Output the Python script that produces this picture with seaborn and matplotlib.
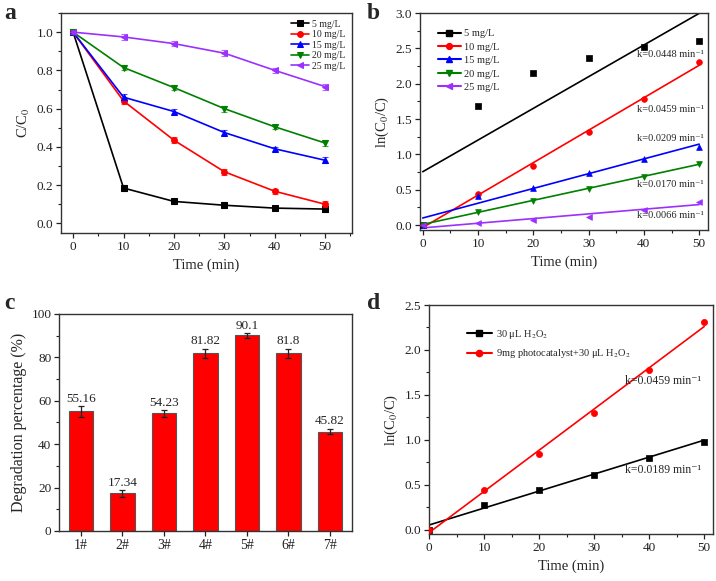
import numpy as np
import pandas as pd
import matplotlib
matplotlib.use("Agg")
import matplotlib.pyplot as plt
from matplotlib.lines import Line2D
from matplotlib.ticker import MultipleLocator, FormatStrFormatter
import seaborn as sns

# ---- data ----
time = [0, 10, 20, 30, 40, 50]
conc_labels = ["5 mg/L", "10 mg/L", "15 mg/L", "20 mg/L", "25 mg/L"]

# panel a: C/C0
c_5 = [1.0, 0.185, 0.115, 0.095, 0.080, 0.075]
c_10 = [1.0, 0.640, 0.435, 0.270, 0.168, 0.100]
c_15 = [1.0, 0.660, 0.585, 0.475, 0.390, 0.330]
c_20 = [1.0, 0.815, 0.710, 0.600, 0.505, 0.420]
c_25 = [1.0, 0.975, 0.940, 0.890, 0.800, 0.715]
c_err = [0.012, 0.015, 0.015, 0.015, 0.012, 0.015]

# panel b: ln(C0/C)
ln_5 = [0.0, 1.69, 2.15, 2.36, 2.52, 2.60]
ln_10 = [0.0, 0.44, 0.84, 1.31, 1.79, 2.31]
ln_15 = [0.0, 0.41, 0.53, 0.74, 0.94, 1.10]
ln_20 = [0.0, 0.19, 0.34, 0.51, 0.68, 0.87]
ln_25 = [0.0, 0.03, 0.07, 0.12, 0.22, 0.33]
k_b = [0.0448, 0.0459, 0.0209, 0.0170, 0.0066]
b0_b = [0.755, -0.035, 0.10, 0.01, -0.04]
k_text_b = ["k=0.0448 min\u207b\u00b9", "k=0.0459 min\u207b\u00b9", "k=0.0209 min\u207b\u00b9",
            "k=0.0170 min\u207b\u00b9", "k=0.0066 min\u207b\u00b9"]
k_text_y_b = [2.41, 1.63, 1.22, 0.57, 0.13]

# panel c: degradation percentage
samples = ["1#", "2#", "3#", "4#", "5#", "6#", "7#"]
degradation = [55.16, 17.34, 54.23, 81.82, 90.1, 81.8, 45.82]
degradation_err = [2.5, 1.5, 1.6, 2.2, 1.0, 2.2, 1.3]
degradation_txt = ["55.16", "17.34", "54.23", "81.82", "90.1", "81.8", "45.82"]

# panel d
d_labels = ["30 \u03bcL H$_2$O$_2$", "9mg photocatalyst+30 \u03bcL H$_2$O$_2$"]
ln_h2o2 = [0.0, 0.27, 0.44, 0.61, 0.80, 0.97]
ln_cat = [0.0, 0.44, 0.84, 1.30, 1.78, 2.31]
k_d = [0.0189, 0.0459]
b0_d = [0.05, -0.035]
k_text_d = ["k=0.0189 min\u207b\u00b9", "k=0.0459 min\u207b\u00b9"]
k_text_y_d = [0.66, 1.65]

colors = ["black", "red", "blue", "#008000", "#9B30FF"]
markers = ["s", "o", "^", "v", "<"]

sns.set_theme(style="white")
plt.rcParams["font.family"] = ["Liberation Serif", "DejaVu Serif"]
plt.rcParams["mathtext.fontset"] = "stix"
plt.rcParams["axes.edgecolor"] = "#333333"
plt.rcParams["axes.linewidth"] = 1.0

fig = plt.figure(figsize=(7.16, 5.81), dpi=100)
ax_a = fig.add_axes([0.0852, 0.599, 0.4064, 0.3786])
ax_b = fig.add_axes([0.5866, 0.6041, 0.4022, 0.3735])
ax_c = fig.add_axes([0.0824, 0.0861, 0.4092, 0.3735])
ax_d = fig.add_axes([0.5992, 0.0809, 0.3966, 0.3941])


def style_axes(ax, xmaj, xmin, ymaj, ymin):
    for s in ax.spines.values():
        s.set_visible(True)
        s.set_color("#333333")
    if xmaj:
        ax.xaxis.set_major_locator(MultipleLocator(xmaj))
    if xmin:
        ax.xaxis.set_minor_locator(MultipleLocator(xmin))
    ax.yaxis.set_major_locator(MultipleLocator(ymaj))
    ax.yaxis.set_minor_locator(MultipleLocator(ymin))
    ax.tick_params(which="major", direction="out", length=3.5, width=0.9,
                   labelsize=9.5, bottom=True, left=True, top=False, right=False,
                   pad=2, colors="#222222")
    ax.tick_params(which="minor", direction="out", length=2, width=0.8,
                   bottom=True, left=True, top=False, right=False, colors="#222222")


# ---- panel a ----
series_a = [c_5, c_10, c_15, c_20, c_25]
for vals, lab, col, mk in zip(series_a, conc_labels, colors, markers):
    sns.lineplot(x=time, y=vals, ax=ax_a, color=col, marker=mk, markersize=4.2,
                 markeredgecolor=col, linewidth=1.2, label=lab)
    ax_a.errorbar(time, vals, yerr=c_err, fmt="none", ecolor=col, elinewidth=0.8,
                  capsize=2, capthick=0.8, alpha=0.7)
ax_a.set_xlim(-2.4, 55.3)
ax_a.set_ylim(-0.05, 1.10)
style_axes(ax_a, 10, 5, 0.2, 0.1)
ax_a.yaxis.set_major_formatter(FormatStrFormatter("%.1f"))
ax_a.set_xlabel("Time (min)", fontsize=10.5, labelpad=4)
ax_a.set_ylabel("C/C$_0$", fontsize=10.5, labelpad=3)
ax_a.legend(loc="upper right", fontsize=7, frameon=False, handlelength=1.8,
            labelspacing=0.15, borderaxespad=0.3, handletextpad=0.3)

# ---- panel b ----
series_b = [ln_5, ln_10, ln_15, ln_20, ln_25]
fit_x = np.array([0, 50])
handles_b = []
for vals, lab, col, mk, k, b0 in zip(series_b, conc_labels, colors, markers, k_b, b0_b):
    sns.scatterplot(x=time, y=vals, ax=ax_b, color=col, marker=mk, s=17,
                    edgecolor=col, linewidth=0.5, zorder=3)
    sns.lineplot(x=fit_x, y=b0 + k * fit_x, ax=ax_b, color=col, linewidth=1.2)
    handles_b.append(Line2D([0], [0], color=col, marker=mk, markersize=4.2, lw=1.5, label=lab))
for txt, ty in zip(k_text_b, k_text_y_b):
    ax_b.text(50.9, ty, txt, fontsize=7.5, ha="right", va="center")
ax_b.set_xlim(-0.5, 51.6)
ax_b.set_ylim(-0.07, 3.0)
style_axes(ax_b, 10, 5, 0.5, 0.25)
ax_b.yaxis.set_major_formatter(FormatStrFormatter("%.1f"))
ax_b.set_xlabel("Time (min)", fontsize=10.5, labelpad=4)
ax_b.set_ylabel("ln(C$_0$/C)", fontsize=10.5, labelpad=3)
ax_b.legend(handles=handles_b, loc="upper left", fontsize=7.5, frameon=False,
            handlelength=2.2, labelspacing=0.4, bbox_to_anchor=(0.03, 0.97),
            handletextpad=0.3)

# ---- panel c ----
sns.barplot(x=samples, y=degradation, ax=ax_c, color="red", edgecolor="#555555",
            linewidth=0.8, width=0.58, saturation=1)
ax_c.errorbar(range(len(samples)), degradation, yerr=degradation_err, fmt="none",
              ecolor="#222222", elinewidth=0.9, capsize=2.5, capthick=0.9)
for i, (v, e, t) in enumerate(zip(degradation, degradation_err, degradation_txt)):
    ax_c.text(i, v + e + 0.6, t, fontsize=9.5, ha="center", va="bottom")
ax_c.set_xlim(-0.53, 6.53)
ax_c.set_ylim(0, 100)
style_axes(ax_c, None, None, 20, 10)
ax_c.tick_params(axis="x", which="minor", bottom=False)
ax_c.tick_params(axis="x", labelsize=10)
ax_c.set_xlabel("")
ax_c.set_ylabel("Degradation percentage (%)", fontsize=11.5, labelpad=3)

# ---- panel d ----
series_d = [ln_h2o2, ln_cat]
handles_d = []
for vals, lab, col, mk, k, b0 in zip(series_d, d_labels, colors[:2], markers[:2], k_d, b0_d):
    sns.scatterplot(x=time, y=vals, ax=ax_d, color=col, marker=mk, s=20,
                    edgecolor=col, linewidth=0.5, zorder=3)
    sns.lineplot(x=fit_x, y=b0 + k * fit_x, ax=ax_d, color=col, linewidth=1.2)
    handles_d.append(Line2D([0], [0], color=col, marker=mk, markersize=4.5, lw=1.5, label=lab))
for txt, ty in zip(k_text_d, k_text_y_d):
    ax_d.text(49.4, ty, txt, fontsize=8.5, ha="right", va="center")
ax_d.set_xlim(0, 51.6)
ax_d.set_ylim(-0.05, 2.5)
style_axes(ax_d, 10, 5, 0.5, 0.25)
ax_d.yaxis.set_major_formatter(FormatStrFormatter("%.1f"))
ax_d.set_xlabel("Time (min)", fontsize=10.5, labelpad=4)
ax_d.set_ylabel("ln(C$_0$/C)", fontsize=10.5, labelpad=3)
ax_d.legend(handles=handles_d, loc="upper left", fontsize=7.5, frameon=False,
            handlelength=2.4, labelspacing=0.6, bbox_to_anchor=(0.1, 0.94),
            handletextpad=0.4)

# panel letters
for lx, ly, letter in [(0.006, 0.995, "a"), (0.512, 0.995, "b"),
                       (0.006, 0.495, "c"), (0.512, 0.495, "d")]:
    fig.text(lx, ly, letter, fontsize=17, fontweight="bold", va="top", ha="left")

fig.savefig("out.png", dpi=100)
